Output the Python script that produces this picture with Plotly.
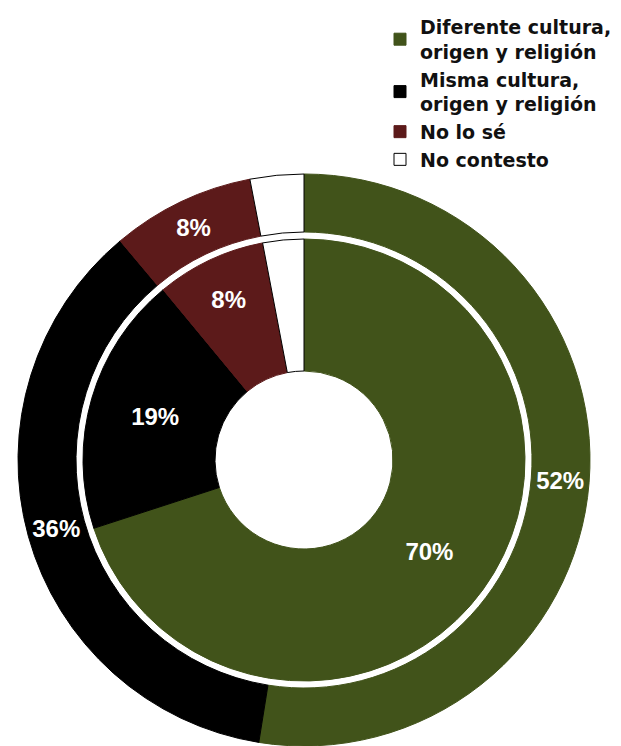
import plotly.graph_objects as go

categories = ["Diferente cultura,<br>origen y religión",
              "Misma cultura,<br>origen y religión",
              "No lo sé",
              "No contesto"]
outer_values = [52, 36, 8, 3]
inner_values = [70, 19, 8, 3]
outer_text = ["52%", "36%", "8%", ""]
inner_text = ["70%", "19%", "8%", ""]

colors = ["#41531a", "#000000", "#5c1a1a", "#ffffff"]
line_colors = ["#41531a", "#000000", "#5c1a1a", "#000000"]

# page has an 8px body margin; figure is sized to fill the rest
W, H = 613, 738
cx, cy = 296, 738 - 452  # center in px from left / bottom
R_out, R_in = 286, 221

lab_font = dict(family="Liberation Sans, Arial", size=24, color="white", weight="bold")

fig = go.Figure()
fig.add_trace(go.Pie(
    labels=categories, values=outer_values, text=outer_text,
    textinfo="text", textposition="inside", insidetextorientation="horizontal",
    sort=False, direction="clockwise", rotation=0, hole=228 / 286,
    marker=dict(colors=colors, line=dict(color=line_colors, width=1)),
    textfont=lab_font,
    domain=dict(x=[(cx - R_out) / W, (cx + R_out) / W], y=[(cy - R_out) / H, (cy + R_out) / H]),
    showlegend=True, hoverinfo="label+text",
))
fig.add_trace(go.Pie(
    labels=categories, values=inner_values, text=inner_text,
    textinfo="text", textposition="inside", insidetextorientation="horizontal",
    sort=False, direction="clockwise", rotation=0, hole=89 / 221,
    marker=dict(colors=colors, line=dict(color=line_colors, width=1)),
    textfont=lab_font,
    domain=dict(x=[(cx - R_in) / W, (cx + R_in) / W], y=[(cy - R_in) / H, (cy + R_in) / H]),
    showlegend=False, hoverinfo="label+text",
))

fig.update_layout(
    width=W, height=H,
    margin=dict(l=0, r=0, t=0, b=0, autoexpand=False),
    paper_bgcolor="white", plot_bgcolor="white",
    uniformtext=dict(minsize=24, mode="show"),
    legend=dict(x=372 / W, y=1, xanchor="left", yanchor="top",
                font=dict(family="DejaVu Sans", size=19, color="#111111", weight="bold"),
                itemwidth=30, bgcolor="rgba(0,0,0,0)", traceorder="normal"),
)

fig.write_html("out.html")
